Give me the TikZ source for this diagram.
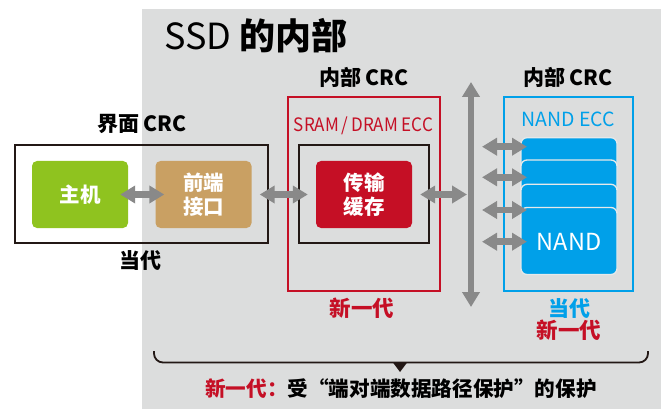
\documentclass[tikz,border=0pt]{standalone}
\usepackage{fontspec}
\setmainfont{Noto Sans CJK SC}
\usetikzlibrary{arrows.meta}
\definecolor{bggray}{HTML}{DCDDDD}
\definecolor{greenc}{HTML}{8FC31F}
\definecolor{tanc}{HTML}{C9A063}
\definecolor{redc}{HTML}{C50F25}
\definecolor{bluec}{HTML}{00A0E9}
\definecolor{arrowc}{HTML}{898989}
\definecolor{linec}{HTML}{231815}
\definecolor{cardedge}{HTML}{E6E9EA}
\tikzset{
  blk/.style={rounded corners=5pt, minimum width=96pt, minimum height=67pt, inner sep=0pt,
    text=white, align=center, font=\bfseries\fontsize{20.5}{24}\selectfont},
  frame/.style={draw=linec, line width=1.6pt, inner sep=0pt},
  lab/.style={inner sep=0pt, text height=0.78em, text depth=0.02em, font=\bfseries\fontsize{#1}{#1}\selectfont},
  darr/.style={draw=arrowc, line width=6.5pt,
    {Triangle[length=15pt,width=17pt]}-{Triangle[length=15pt,width=17pt]}},
  card/.style={fill=bluec, draw=cardedge, line width=1.3pt, rounded corners=6pt,
    minimum width=96pt, minimum height=67pt, inner sep=0pt}
}
\begin{document}
\begin{tikzpicture}[x=1pt,y=-1pt]
\useasboundingbox (0,0) rectangle (667,409);
\fill[bggray] (142,9) rectangle (661,409);

% title
\node[anchor=base west, inner sep=0pt, font=\fontsize{36}{40}\selectfont] (title) at (164,50) {SSD \textbf{的内部}};

% frames
\node[frame, minimum width=253pt, minimum height=98pt] (ifbox) at (141.5,194) {};
\node[draw=redc, line width=1.4pt, inner sep=0pt, minimum width=152pt, minimum height=194pt] (redbox) at (364,194) {};
\node[frame, minimum width=130pt, minimum height=98pt] (inbox) at (364,194) {};
\node[draw=bluec, line width=1.8pt, inner sep=0pt, minimum width=129pt, minimum height=194pt] (bluebox) at (568.5,194) {};

% blocks
\node[blk, fill=greenc] (host) at (80,194.5) {主机};
\node[blk, fill=tanc] (fe) at (203.5,194.5) {前端\\接口};
\node[blk, fill=redc] (buf) at (364,194.5) {传输\\缓存};

% NAND stack
\node[card] (n1) at (569,171.2) {};
\node[card] (n2) at (569,193.5) {};
\node[card] (n3) at (569,217.8) {};
\node[card] (n4) at (569,241) {};
\node[anchor=base, inner sep=0pt, text=white, font=\fontsize{23.5}{24}\selectfont] (nandt) at (569,250) {NAND};

% labels
\node[lab=21] (l1) at (142,128) {界面 CRC};
\node[lab=21] (l2) at (364,82) {内部 CRC};
\node[lab=21] (l3) at (568,82) {内部 CRC};
\node[anchor=base, inner sep=0pt, text=redc, font=\fontsize{18.5}{19}\selectfont, xscale=0.92] (sram) at (363.5,131.5) {SRAM\,/\,DRAM ECC};
\node[anchor=base, inner sep=0pt, text=bluec, font=\fontsize{19.5}{20}\selectfont] (necc) at (568,126.7) {NAND ECC};
\node[lab=21] (cur1) at (140,265) {当代};
\node[lab=21.5, text=redc] (new1) at (362,313) {新一代};
\node[lab=21, text=bluec] (cur2) at (569,313) {当代};
\node[lab=21.5, text=redc] (new2) at (569,335) {新一代};

% arrows
\coordinate (bustop) at (471,82);
\coordinate (busbot) at (471,307);
\draw[darr] (bustop) -- (busbot);
\draw[darr] ([xshift=-8pt]host.east) -- ([xshift=9pt]fe.west);
\draw[darr] ([xshift=8pt]fe.east) -- ([xshift=-8pt]buf.west);
\coordinate (busl) at (467,194.5);
\draw[darr] ([xshift=8pt]buf.east) -- (busl);
\foreach \yy/\i in {146.7/1,177.3/2,210/3,241.7/4}{
  \coordinate (bs\i) at (482,\yy);
  \coordinate (nd\i) at (527,\yy);
  \draw[darr] (bs\i) -- (nd\i);
}

% brace
\coordinate (brl) at (154,351);
\coordinate (brr) at (648,351);
\draw[linec, line width=1.8pt, rounded corners=9pt] (brl) -- (154,362.5) -- (648,362.5) -- (brr);
\fill[linec] (392.5,362) -- (407.5,362) -- (400,372) -- cycle;

% bottom note
\node[anchor=base west, inner sep=0pt, font=\bfseries\fontsize{20.6}{21}\selectfont] (note) at (205,396.5)
  {\textcolor{redc}{新一代：}受“端对端数据路径保护”的保护};
\end{tikzpicture}
\end{document}
